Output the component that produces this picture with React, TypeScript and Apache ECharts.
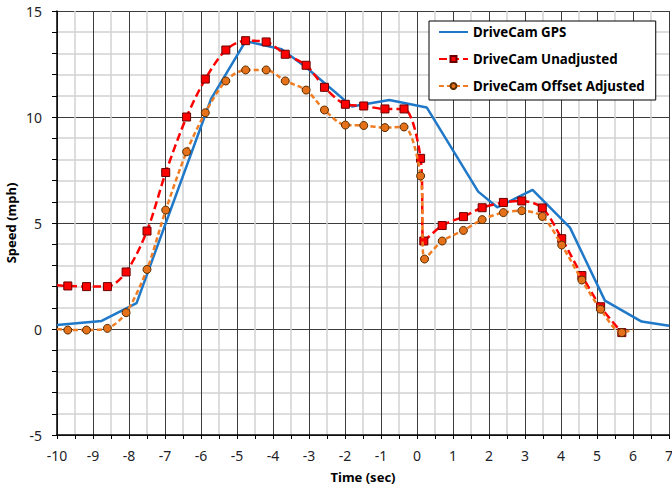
import React, { useEffect, useRef } from "react";
import * as echarts from "echarts";

const gpsTime = [-10, -8.76, -7.79, -5.72, -4.76, -3.76, -3.1, -1.81, -0.77, 0.27, 1.7, 2.23, 3.21, 4.25, 5.22, 6.24, 7];
const gpsSpeed = [0.19, 0.38, 1.22, 10.85, 13.58, 13.2, 12.37, 10.5, 10.8, 10.45, 6.48, 5.74, 6.56, 4.78, 1.34, 0.35, 0.15];

const unadjTime = [-10, -9.7, -9.18, -8.6, -8.08, -7.5, -6.98, -6.4, -5.88, -5.31, -4.76, -4.19, -3.66, -3.08, -2.57, -1.99, -1.48, -0.89, -0.36, 0.1, 0.19, 0.7, 1.29, 1.81, 2.4, 2.91, 3.48, 4.02, 4.58, 5.1, 5.69];
const unadjSpeed = [2.06, 2.03, 2.0, 2.0, 2.69, 4.62, 7.38, 10.0, 11.79, 13.16, 13.6, 13.54, 12.96, 12.44, 11.4, 10.6, 10.52, 10.38, 10.38, 8.05, 4.15, 4.88, 5.3, 5.72, 5.97, 6.04, 5.71, 4.26, 2.52, 1.05, -0.17];

const offsetTime = [-10, -9.7, -9.18, -8.6, -8.08, -7.5, -6.98, -6.4, -5.88, -5.31, -4.76, -4.19, -3.66, -3.08, -2.57, -1.99, -1.48, -0.89, -0.36, 0.1, 0.21, 0.7, 1.29, 1.81, 2.4, 2.91, 3.48, 4.02, 4.58, 5.1, 5.69, 6.0];
const offsetSpeed = [0.0, -0.05, -0.05, 0.03, 0.77, 2.81, 5.61, 8.36, 10.2, 11.7, 12.22, 12.22, 11.7, 11.27, 10.33, 9.62, 9.6, 9.5, 9.53, 7.22, 3.3, 4.15, 4.65, 5.16, 5.49, 5.58, 5.31, 3.96, 2.31, 0.93, -0.17, -0.03];

// endpoints drawn without a marker (line continues to plot edge)
const unadjNoMarker = [0];
const offsetNoMarker = [0, 31];

const seriesNames = ["DriveCam GPS", "DriveCam Unadjusted", "DriveCam Offset Adjusted"];

const FONT = "'Noto Sans', 'Open Sans', sans-serif";

function pts(t: number[], v: number[], noMarker: number[] = []) {
  return t.map((x, i) =>
    noMarker.includes(i) ? { value: [x, v[i]], symbol: "none" } : { value: [x, v[i]] }
  );
}

export default function App() {
  const ref = useRef<HTMLDivElement>(null);
  useEffect(() => {
    if (!ref.current) return;
    const chart = echarts.init(ref.current, undefined, { renderer: "svg" });
    chart.setOption({
      animation: false,
      backgroundColor: "#fff",
      textStyle: { fontFamily: FONT },
      grid: { left: 57, right: 3, top: 11, bottom: 54, containLabel: false, outerBoundsMode: "none" },
      legend: {
        orient: "vertical",
        left: 429,
        top: 21,
        padding: [2, 11, 5, 9],
        itemWidth: 29,
        itemHeight: 7.5,
        itemGap: 9,
        backgroundColor: "#fff",
        borderColor: "#000",
        borderWidth: 1,
        borderRadius: 0,
        textStyle: { fontFamily: FONT, fontSize: 13.3, fontWeight: "bold", color: "#000", lineHeight: 18 },
        data: [
          { name: seriesNames[0], itemStyle: { color: "rgba(0,0,0,0)", borderWidth: 0 } },
          { name: seriesNames[1] },
          { name: seriesNames[2] },
        ],
      },
      xAxis: {
        type: "value",
        min: -10,
        max: 7,
        interval: 1,
        name: "Time (sec)",
        nameLocation: "middle",
        nameGap: 35,
        nameMoveOverlap: false,
        nameTextStyle: { fontFamily: FONT, fontSize: 13, fontWeight: "bold", color: "#000" },
        axisLine: { onZero: false, lineStyle: { color: "#000", width: 1.5 } },
        axisTick: { show: true, length: 4, lineStyle: { color: "#000" } },
        minorTick: { show: true, splitNumber: 2, length: 4, lineStyle: { color: "#000" } },
        axisLabel: { fontFamily: FONT, fontSize: 14, color: "#1e1e28", margin: 13 },
        splitLine: { show: true, lineStyle: { color: "#3c3c3c", width: 1 } },
        minorSplitLine: { show: true, lineStyle: { color: "#d2d2d2", width: 1.5 } },
      },
      yAxis: {
        type: "value",
        min: -5,
        max: 15,
        interval: 5,
        name: "Speed (mph)",
        nameLocation: "middle",
        nameGap: 40,
        nameMoveOverlap: false,
        nameTextStyle: { fontFamily: FONT, fontSize: 13, fontWeight: "bold", color: "#000" },
        axisLine: { show: true, onZero: false, lineStyle: { color: "#000", width: 1.5 } },
        axisTick: { show: true, length: 5, lineStyle: { color: "#000" } },
        minorTick: { show: true, splitNumber: 5, length: 5, lineStyle: { color: "#000" } },
        axisLabel: { fontFamily: FONT, fontSize: 14, color: "#1e1e28", margin: 15 },
        splitLine: { show: true, lineStyle: { color: "#3c3c3c", width: 1 } },
        minorSplitLine: { show: true, lineStyle: { color: "#d2d2d2", width: 1.5 } },
      },
      series: [
        {
          name: seriesNames[0],
          type: "line",
          data: pts(gpsTime, gpsSpeed),
          symbol: "none",
          lineStyle: { color: "#1F78C8", width: 2.5 },
          itemStyle: { color: "#1F78C8" },
          z: 3,
        },
        {
          name: seriesNames[1],
          type: "line",
          data: pts(unadjTime, unadjSpeed, unadjNoMarker),
          smooth: 0.3,
          symbol: "rect",
          symbolSize: 8,
          lineStyle: { color: "#FF0000", width: 2.5, type: [8, 4] },
          itemStyle: { color: "#FF0000", borderColor: "#6a0000", borderWidth: 1 },
          z: 4,
        },
        {
          name: seriesNames[2],
          type: "line",
          data: pts(offsetTime, offsetSpeed, offsetNoMarker),
          smooth: 0.3,
          symbol: "circle",
          symbolSize: 8,
          lineStyle: { color: "#F07D23", width: 2.5, type: [5, 3] },
          itemStyle: { color: "#E5711B", borderColor: "#5a2e00", borderWidth: 1 },
          z: 5,
        },
      ],
    });
    return () => chart.dispose();
  }, []);
  return <div ref={ref} style={{ width: 672, height: 489, position: "absolute", left: 0, top: 0 }} />;
}
